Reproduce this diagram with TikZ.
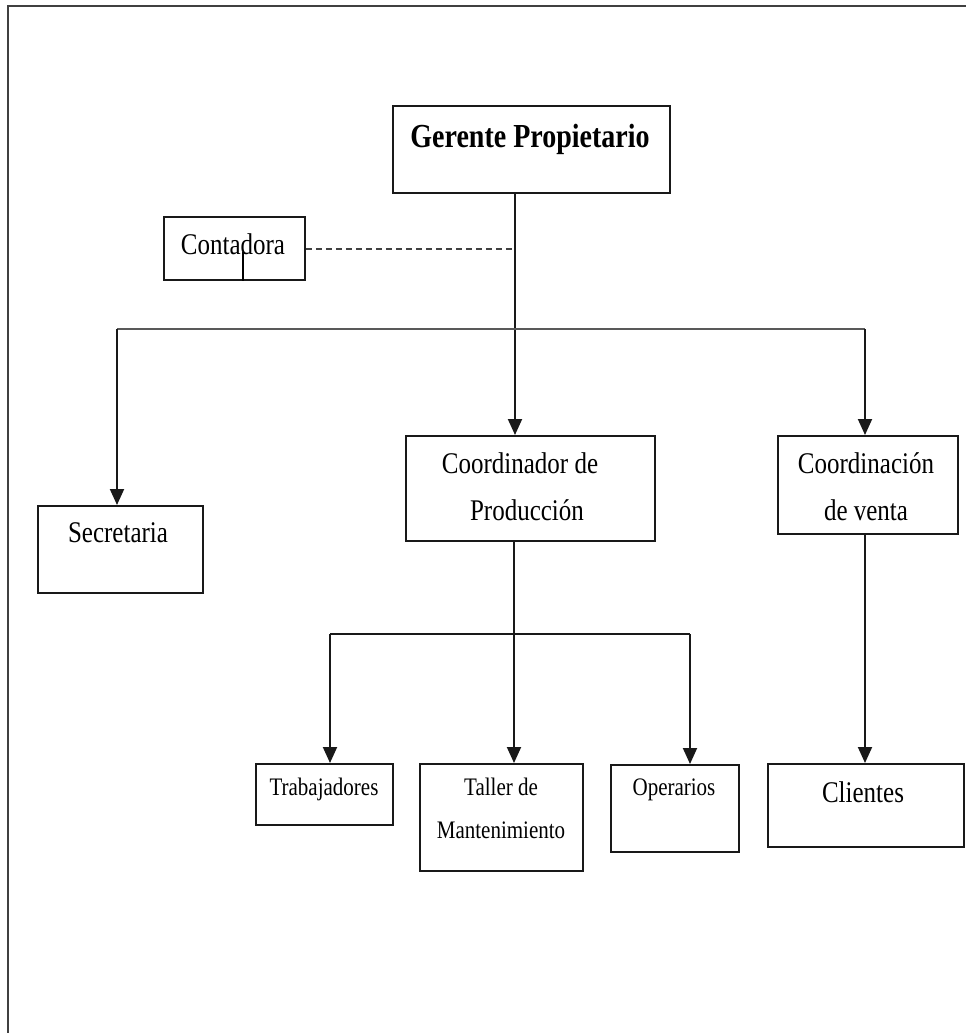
\documentclass[tikz,border=0pt]{standalone}
\usepackage{fontspec}
\setmainfont{Liberation Serif}
\usetikzlibrary{arrows.meta}
\newcommand{\txtA}[1]{\fontsize{25}{30}\selectfont\scalebox{1}[1.2]{#1}}
\newcommand{\txtB}[1]{\fontsize{21}{25}\selectfont\scalebox{1}[1.2]{#1}}
\newcommand{\txtC}[1]{\fontsize{28}{33}\selectfont\bfseries\scalebox{1}[1.2]{#1}}
\tikzset{
  box/.style={draw=black!90, line width=1.8pt, anchor=north west, inner sep=0pt, minimum width=#1},
  lbl/.style={anchor=base, inner sep=0pt},
  ln/.style={draw=black!90, line width=1.9pt},
  conn/.style={ln, -{Triangle[width=14pt,length=16pt]}},
  dashln/.style={draw=black!75, line width=1.5pt, dash pattern=on 6pt off 4pt},
  grayln/.style={draw=black!65, line width=2.2pt},
  frameln/.style={draw=black!75, line width=2pt}
}
\begin{document}
\begin{tikzpicture}[x=1pt,y=-1pt]
\useasboundingbox (0,0) rectangle (966,1033);
% outer frame
\draw[frameln] (8,1033) -- (8,6) -- (966,6);
% boxes
\node[box=277pt, minimum height=87pt] (ger) at (392,105) {};
\node[box=141pt, minimum height=63pt] (cont) at (163,216) {};
\node[box=165pt, minimum height=87pt] (sec) at (37,505) {};
\node[box=249pt, minimum height=105pt] (coordp) at (405,435) {};
\node[box=180pt, minimum height=98pt] (cventa) at (777,435) {};
\node[box=137pt, minimum height=61pt] (trab) at (255,763) {};
\node[box=163pt, minimum height=107pt] (taller) at (419,763) {};
\node[box=128pt, minimum height=87pt] (oper) at (610,764) {};
\node[box=196pt, minimum height=83pt] (cli) at (767,763) {};
% texts
\node[lbl] (tger) at (530,147) {\txtC{Gerente Propietario}};
\node[lbl] (tcont) at (233,254) {\txtA{Contadora}};
\node[lbl] (tsec) at (118,542) {\txtA{Secretaria}};
\node[lbl] (tcp1) at (520,473) {\txtA{Coordinador de}};
\node[lbl] (tcp2) at (527,520) {\txtA{Producción}};
\node[lbl] (tcv1) at (866,473) {\txtA{Coordinación}};
\node[lbl] (tcv2) at (866,520) {\txtA{de venta}};
\node[lbl] (ttrab) at (324,795) {\txtB{Trabajadores}};
\node[lbl] (ttal1) at (501,795) {\txtB{Taller de}};
\node[lbl] (ttal2) at (501,838) {\txtB{Mantenimiento}};
\node[lbl] (toper) at (674,795) {\txtB{Operarios}};
\node[lbl] (tcli) at (863,802) {\txtA{Clientes}};
% junctions
\coordinate (jd) at (515,249);
\coordinate (jtop) at (515,329);
\coordinate (jl) at (117,329);
\coordinate (jr) at (865,329);
\coordinate (jb) at (514,634);
\coordinate (jbl) at (330,634);
\coordinate (jbr) at (690,634);
\coordinate (tick) at (243,252);
% connectors
\draw[conn] (ger.south -| jtop) -- (coordp.north -| jtop);
\draw[dashln] (cont.east |- jd) -- (jd);
\draw[line width=2.2pt] (tick) -- (tick |- cont.south);
\draw[grayln] (jl) -- (jr);
\draw[conn] (jl) -- (sec.north -| jl);
\draw[conn] (jr) -- (cventa.north -| jr);
\draw[conn] (cventa.south -| jr) -- (cli.north -| jr);
\draw[ln] (coordp.south -| jb) -- (jb);
\draw[ln] (jbl) -- (jbr);
\draw[conn] (jbl) -- (trab.north -| jbl);
\draw[conn] (jb) -- (taller.north -| jb);
\draw[conn] (jbr) -- (oper.north -| jbr);
\end{tikzpicture}
\end{document}
